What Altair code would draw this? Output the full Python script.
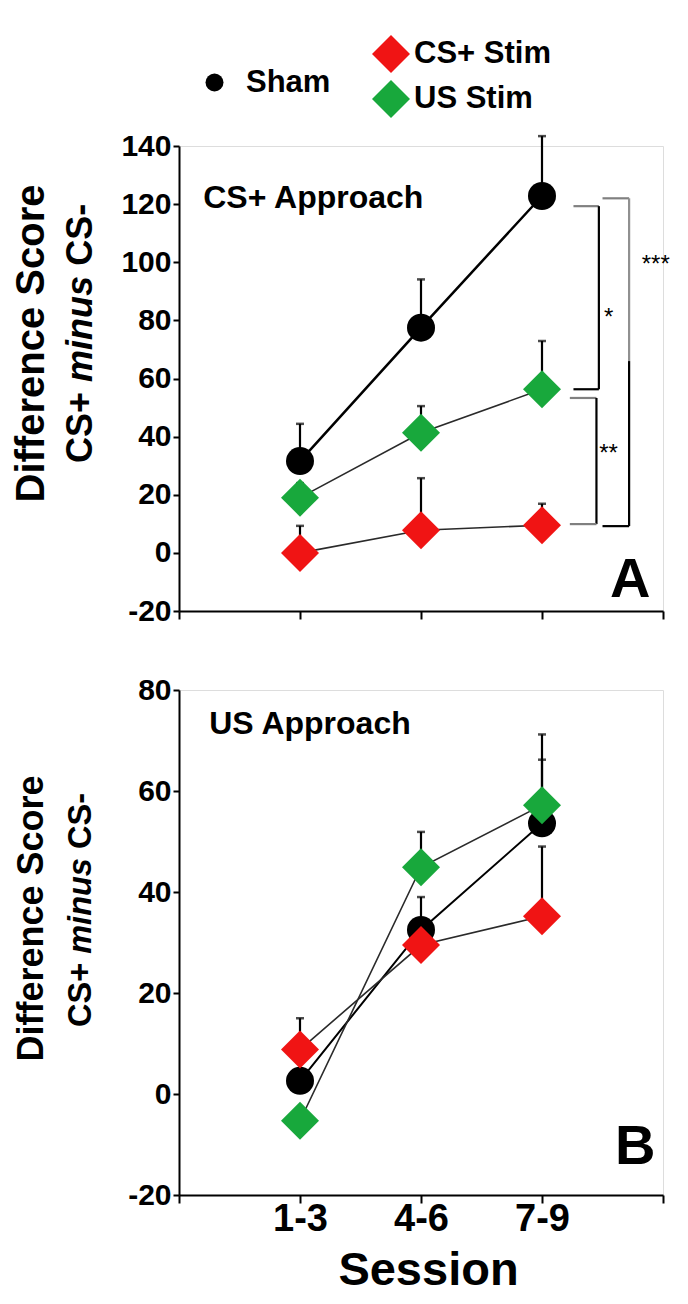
import altair as alt
import pandas as pd

FONT = "Liberation Sans"

# ---------------- data ----------------
sessions = ["1-3", "4-6", "7-9"]
series_names = ["Sham", "CS+ Stim", "US Stim"]

# Panel A : CS+ Approach (mean, +SEM)
a_sham = [31.6, 77.5, 122.8]
a_sham_err = [12.8, 16.6, 20.6]
a_cs = [0.0, 7.8, 9.5]
a_cs_err = [9.3, 17.9, 7.4]
a_us = [19.0, 41.3, 56.3]
a_us_err = [5.0, 9.2, 16.6]

# Panel B : US Approach (mean, +SEM)
b_sham = [2.6, 32.5, 53.6]
b_sham_err = [6.0, 6.5, 12.6]
b_cs = [8.8, 29.5, 35.2]
b_cs_err = [6.2, 4.0, 13.8]
b_us = [-5.3, 44.9, 57.2]
b_us_err = [2.5, 7.0, 14.0]

colors = {"Sham": "#000000", "CS+ Stim": "#f01414", "US Stim": "#18a83c"}


def make_df(sham, sham_e, cs, cs_e, us, us_e):
    rows = []
    for name, vals, errs in [("Sham", sham, sham_e), ("CS+ Stim", cs, cs_e), ("US Stim", us, us_e)]:
        for i, (v, e) in enumerate(zip(vals, errs)):
            rows.append({"series": name, "session": sessions[i], "pos": i + 1,
                         "value": v, "upper": v + e})
    return pd.DataFrame(rows)


dfA = make_df(a_sham, a_sham_err, a_cs, a_cs_err, a_us, a_us_err)
dfB = make_df(b_sham, b_sham_err, b_cs, b_cs_err, b_us, b_us_err)

# significance brackets (panel A) : x from, x to, y from, y to, colour
brackets = pd.DataFrame([
    # "*"  Sham vs US Stim
    {"x": 3.26, "x2": 3.47, "y": 119.3, "y2": 119.3, "c": "#808080"},
    {"x": 3.47, "x2": 3.47, "y": 119.3, "y2": 56.3, "c": "#000000"},
    {"x": 3.26, "x2": 3.47, "y": 56.3, "y2": 56.3, "c": "#000000"},
    # "***" Sham vs CS+ Stim
    {"x": 3.50, "x2": 3.72, "y": 122.0, "y2": 122.0, "c": "#808080"},
    {"x": 3.72, "x2": 3.72, "y": 122.0, "y2": 66.0, "c": "#909090"},
    {"x": 3.72, "x2": 3.72, "y": 66.0, "y2": 9.2, "c": "#000000"},
    {"x": 3.50, "x2": 3.72, "y": 9.2, "y2": 9.2, "c": "#000000"},
    # "**" US Stim vs CS+ Stim
    {"x": 3.23, "x2": 3.45, "y": 53.3, "y2": 53.3, "c": "#808080"},
    {"x": 3.45, "x2": 3.45, "y": 53.3, "y2": 9.9, "c": "#000000"},
    {"x": 3.23, "x2": 3.45, "y": 9.9, "y2": 9.9, "c": "#808080"},
])
stars = pd.DataFrame([
    {"x": 3.55, "y": 83.0, "t": "*"},
    {"x": 3.55, "y": 36.0, "t": "**"},
    {"x": 3.94, "y": 101.0, "t": "***"},
])

label_expr = " : ".join(
    [f"datum.value == {i + 1} ? '{s}'" for i, s in enumerate(sessions)]) + " : ''"


def x_enc(field, bottom):
    if bottom:
        ax = alt.Axis(values=[0, 1, 2, 3, 4], labelExpr=label_expr, grid=False,
                      tickSize=8, tickWidth=2, tickColor="black",
                      domainColor="black", domainWidth=2,
                      labelFont=FONT, labelFontSize=38, labelFontWeight="bold",
                      labelColor="black", labelPadding=-3, labelFlush=False,
                      title="Session", titleFont=FONT, titleFontSize=47,
                      titleFontWeight="bold", titleColor="black",
                      titleX=249, titleY=52, titleBaseline="top", titleAlign="center")
    else:
        ax = alt.Axis(values=[0, 1, 2, 3, 4], labels=False, grid=False,
                      tickSize=8, tickWidth=2, tickColor="black",
                      domainColor="black", domainWidth=2, title=None)
    return alt.X(field, type="quantitative",
                 scale=alt.Scale(domain=[0, 4], nice=False, zero=False), axis=ax)


def y_enc(field, dom, title_y, title_size):
    ax = alt.Axis(values=list(range(dom[0], dom[1] + 1, 20)), grid=False,
                  labelExpr="datum.value < 0 ? '-' + abs(datum.value) : '' + datum.value",
                  tickSize=6, tickWidth=2, tickColor="black",
                  domainColor="black", domainWidth=2,
                  labelFont=FONT, labelFontSize=30, labelFontWeight="bold",
                  labelColor="black", labelPadding=2, labelFlush=False,
                  title="Difference Score", titleFont=FONT, titleFontSize=title_size,
                  titleFontWeight="bold", titleColor="black", titleAngle=270,
                  titleX=-148, titleY=title_y, titleAlign="center", titleBaseline="middle")
    return alt.Y(field, type="quantitative",
                 scale=alt.Scale(domain=list(dom), nice=False, zero=False), axis=ax)


def panel(df, dom, height, bottom, title_y, title_size, sub_size, sub_pos,
          label_text, label_pos, letter, letter_pos, with_legend, lw_sham):
    X = lambda f: x_enc(f, bottom)
    Y = lambda f: y_enc(f, dom, title_y, title_size)
    base = alt.Chart(df)

    sham_line = base.transform_filter(alt.datum.series == "Sham").mark_line(
        color="black", strokeWidth=lw_sham).encode(x=X("pos"), y=Y("value"))
    stim_line = base.transform_filter(alt.datum.series != "Sham").mark_line(
        color="#2a2a2a", strokeWidth=1.6).encode(x=X("pos"), y=Y("value"), detail="series:N")
    err_rule = base.mark_rule(color="black", strokeWidth=2.2).encode(
        x=X("pos"), y=Y("value"), y2="upper:Q")
    err_cap = base.mark_tick(color="black", orient="horizontal", size=8, thickness=2.5).encode(
        x=X("pos"), y=Y("upper"))

    if with_legend:
        sham_leg = alt.Legend(title=None, orient="none", legendX=20, legendY=-79,
                              symbolType="circle", symbolSize=324, padding=0,
                              labelFont=FONT, labelFontSize=31, labelFontWeight="bold",
                              labelColor="black", labelOffset=16, symbolStrokeWidth=0)
        stim_leg = alt.Legend(title=None, orient="none", legendX=193, legendY=-111,
                              symbolType="diamond", symbolSize=1444, padding=0,
                              labelFont=FONT, labelFontSize=31, labelFontWeight="bold",
                              labelColor="black", labelOffset=4, rowPadding=7,
                              symbolStrokeWidth=0)
    else:
        sham_leg = None
        stim_leg = None

    sham_pts = base.transform_filter(alt.datum.series == "Sham").mark_point(
        shape="circle", filled=True, size=784, opacity=1).encode(
        x=X("pos"), y=Y("value"),
        color=alt.Color("series:N", scale=alt.Scale(domain=["Sham"], range=[colors["Sham"]]),
                        legend=sham_leg))
    stim_pts = base.transform_filter(alt.datum.series != "Sham").mark_point(
        shape="diamond", filled=True, size=1444, opacity=1).encode(
        x=X("pos"), y=Y("value"),
        color=alt.Color("series:N",
                        scale=alt.Scale(domain=["CS+ Stim", "US Stim"],
                                        range=[colors["CS+ Stim"], colors["US Stim"]]),
                        legend=stim_leg))

    one = alt.Chart(pd.DataFrame({"a": [0]}))
    title_txt = one.mark_text(text=label_text, font=FONT, fontSize=32, fontWeight="bold",
                              color="black", align="left", baseline="middle").encode(
        x=alt.datum(label_pos[0]), y=alt.datum(label_pos[1]))
    letter_txt = one.mark_text(text=letter, font=FONT, fontSize=56, fontWeight="bold",
                               color="black", align="center", baseline="middle").encode(
        x=alt.datum(letter_pos[0]), y=alt.datum(letter_pos[1]))

    # second line of the y title: "CS+ minus CS-" (minus in italics)
    w1 = 1.973 * sub_size
    gap = 0.28 * sub_size
    w2 = 2.945 * sub_size
    y0 = sub_pos
    sub1 = one.mark_text(text="CS+", font=FONT, fontSize=sub_size, fontWeight="bold",
                         color="black", angle=270, align="left", baseline="middle").encode(
        x=alt.value(-98), y=alt.value(y0))
    sub2 = one.mark_text(text="minus", font=FONT, fontSize=sub_size, fontWeight="bold",
                         fontStyle="italic", color="black", angle=270, align="left",
                         baseline="middle").encode(
        x=alt.value(-98), y=alt.value(y0 - w1 - gap))
    sub3 = one.mark_text(text="CS-", font=FONT, fontSize=sub_size, fontWeight="bold",
                         color="black", angle=270, align="left", baseline="middle").encode(
        x=alt.value(-98), y=alt.value(y0 - w1 - w2 - 2 * gap))

    layers = [sham_line, stim_line, err_rule, err_cap]
    if with_legend:
        br = alt.Chart(brackets).mark_rule(strokeWidth=2.2).encode(
            x=X("x"), x2="x2:Q", y=Y("y"), y2="y2:Q",
            color=alt.Color("c:N", scale=None))
        st = alt.Chart(stars).mark_text(font=FONT, fontSize=24, color="black",
                                        align="center", baseline="middle", dy=6).encode(
            x=X("x"), y=Y("y"), text="t:N")
        layers += [br, st]
    layers += [title_txt, letter_txt, sub1, sub2, sub3, sham_pts, stim_pts]

    return alt.layer(*layers).resolve_scale(color="independent").properties(
        width=484, height=height)


chartA = panel(dfA, (-20, 140), 465, False, 197, 40, 36, 317,
               "CS+ Approach", (0.2, 122), "A", (3.73, -9.5), True, 2.5)
chartB = panel(dfB, (-20, 80), 505, True, 228, 36, 32.5, 337,
               "US Approach", (0.25, 73.3), "B", (3.77, -10.5), False, 2.0)

chart = alt.vconcat(chartA, chartB, spacing=47).resolve_scale(
    color="independent").properties(
    padding={"top": 26, "left": 2, "right": 0, "bottom": 0}
).configure_view(stroke=None).configure(background="white")

chart.save("out.html", embed_options={"renderer": "svg", "actions": False})
